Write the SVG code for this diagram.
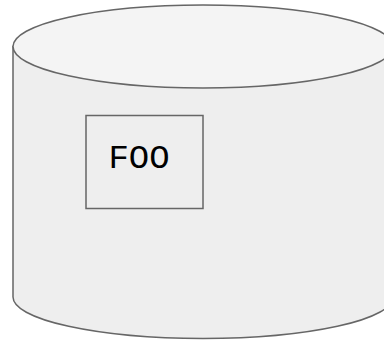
<svg xmlns="http://www.w3.org/2000/svg" width="384" height="340" viewBox="0 0 384 340">
<style>
.s{stroke:#666666;stroke-width:1.5}
.t{font-family:"Liberation Mono","Courier New",monospace;font-size:34px;fill:#000}
</style>
<rect width="384" height="340" fill="#ffffff"/>
<g id="cylinder">
<path class="s" fill="#eeeeee" d="M13,46.5 L13,297 A190,41.5 0 0 0 393,297 L393,46.5 Z"/>
<ellipse class="s" fill="#f4f4f4" cx="203" cy="46.5" rx="190" ry="41.5"/>
</g>
<g id="foo">
<rect class="s" fill="#eeeeee" x="86" y="115.5" width="117" height="93"/>
<text class="t" x="139" y="168" text-anchor="middle">FOO</text>
</g>
<g id="connectors"/>
</svg>
